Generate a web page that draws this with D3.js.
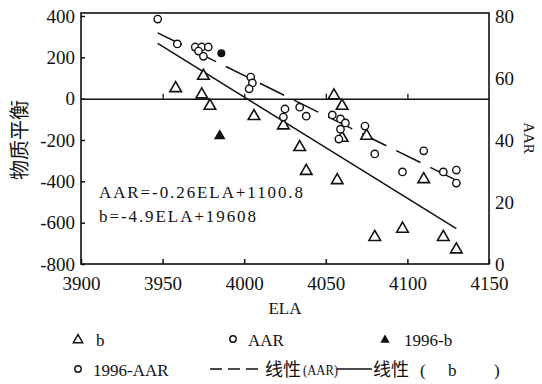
<!DOCTYPE html>
<html>
<head>
<meta charset="utf-8">
<script src="https://cdn.jsdelivr.net/npm/d3@7"></script>
<style>
  body { margin: 0; background: #fff; }
</style>
</head>
<body>
<div id="chart"></div>
<script>
// b (mass balance) points, open triangles
const bELA = [3958, 3975, 3974, 3979, 4006, 4024, 4034, 4038, 4057, 4055, 4060, 4060, 4075, 4080, 4097, 4110, 4122, 4130];
const bVal = [50, 110, 20, -35, -85, -130, -235, -350, -395, 15, -35, -190, -180, -670, -630, -390, -670, -730];

// AAR points, open circles
const aarELA = [3947, 3959, 3970, 3974, 3978, 3972, 3975, 4004, 4005, 4003, 4025, 4024, 4034, 4038, 4054, 4059, 4062, 4059, 4058, 4074, 4080, 4110, 4097, 4122, 4130, 4130];
const aarVal = [79, 71, 70, 70, 70, 68.7, 67, 60.3, 58.4, 56.5, 50, 47.4, 50.6, 47.7, 48.1, 46.8, 45.5, 43.5, 40.3, 44.5, 35.5, 36.5, 29.7, 29.7, 30.3, 26.1];

// 1996 points
const b96ELA = [3985], b96Val = [-180];
const aar96ELA = [3986], aar96Val = [68];

// linear fits: value = slope * ELA + intercept
const aarFit = [-0.26, 1100.8];
const bFit = [-4.9, 19608];
const fitRange = [3947, 4130];

const xTicks = [3900, 3950, 4000, 4050, 4100, 4150];
const yLeftTicks = [-800, -600, -400, -200, 0, 200, 400];
const yRightTicks = [0, 20, 40, 60, 80];

const serif = "'Liberation Serif', 'Times New Roman', serif";
const cjk = "'Noto Sans CJK SC', sans-serif";

const width = 542, height = 384;
const svg = d3.select("#chart").append("svg")
    .attr("width", width)
    .attr("height", height)
    .style("font-family", serif);

const x = d3.scaleLinear().domain([3900, 4150]).range([81, 489]);
const yL = d3.scaleLinear().domain([-800, 400]).range([264, 16]);
const yR = d3.scaleLinear().domain([0, 80]).range([264, 16]);
const fmt = d => d < 0 ? "-" + Math.abs(d) : String(d);

// frame
svg.append("rect")
    .attr("x", x(3900)).attr("y", 13)
    .attr("width", x(4150) - x(3900)).attr("height", yL(-800) - 13)
    .attr("fill", "none").attr("stroke", "#111").attr("stroke-width", 1.6);

function styleAxis(g) {
    g.attr("font-family", serif).attr("font-size", 19);
    g.selectAll("text").attr("fill", "#111");
    g.selectAll("line").attr("stroke", "#111").attr("stroke-width", 1.5);
}

// left axis (ticks pointing inward)
const gL = svg.append("g")
    .attr("transform", `translate(${x(3900)},0)`)
    .call(d3.axisLeft(yL).tickValues(yLeftTicks).tickSize(-4).tickPadding(6).tickFormat(fmt));
gL.select(".domain").remove();
styleAxis(gL);

// right axis
const gR = svg.append("g")
    .attr("transform", `translate(${x(4150)},0)`)
    .call(d3.axisRight(yR).tickValues(yRightTicks).tickSize(0).tickPadding(6).tickFormat(fmt));
gR.select(".domain").remove();
styleAxis(gR);

// bottom axis
const gB = svg.append("g")
    .attr("transform", `translate(0,${yL(-800)})`)
    .call(d3.axisBottom(x).tickValues(xTicks).tickSize(-5).tickSizeOuter(0).tickPadding(13).tickFormat(fmt));
gB.select(".domain").remove();
styleAxis(gB);

// zero line with small upward ticks
const gZ = svg.append("g")
    .attr("transform", `translate(0,${yL(0)})`)
    .call(d3.axisBottom(x).tickValues(xTicks.slice(1, -1)).tickSize(-5).tickSizeOuter(0).tickFormat(""));
gZ.select(".domain").attr("stroke", "#111").attr("stroke-width", 1.5);
gZ.selectAll("line").attr("stroke", "#111").attr("stroke-width", 1.3);

// axis titles
svg.append("text")
    .attr("transform", `translate(27,${yL(-200)}) rotate(-90)`)
    .attr("text-anchor", "middle")
    .style("font-family", cjk)
    .style("font-size", "20px")
    .attr("fill", "#111")
    .text("物质平衡");

svg.append("text")
    .attr("transform", `translate(524,138) rotate(90)`)
    .attr("text-anchor", "middle")
    .style("font-size", "15px")
    .attr("fill", "#111")
    .text("AAR");

svg.append("text")
    .attr("x", (x(3900) + x(4150)) / 2)
    .attr("y", 314)
    .attr("text-anchor", "middle")
    .style("font-size", "17px")
    .attr("fill", "#111")
    .text("ELA");

// regression lines
const bLine = fitRange.map(e => [x(e), yL(bFit[0] * e + bFit[1])]);
const aarLine = fitRange.map(e => [x(e), yR(aarFit[0] * e + aarFit[1])]);

svg.append("path")
    .attr("d", d3.line()(bLine))
    .attr("fill", "none").attr("stroke", "#111").attr("stroke-width", 1.5);
svg.append("path")
    .attr("d", d3.line()(aarLine))
    .attr("fill", "none").attr("stroke", "#111").attr("stroke-width", 1.5)
    .attr("stroke-dasharray", "27,11");

// markers
const tri = d3.symbol(d3.symbolTriangle, 58);
svg.append("g").selectAll("path")
    .data(d3.zip(bELA, bVal))
    .join("path")
    .attr("d", tri)
    .attr("transform", d => `translate(${x(d[0])},${yL(d[1])})`)
    .attr("fill", "#fff").attr("stroke", "#111").attr("stroke-width", 1.6);

svg.append("g").selectAll("path")
    .data(d3.zip(b96ELA, b96Val))
    .join("path")
    .attr("d", tri)
    .attr("transform", d => `translate(${x(d[0])},${yL(d[1])})`)
    .attr("fill", "#111");

svg.append("g").selectAll("circle")
    .data(d3.zip(aarELA, aarVal))
    .join("circle")
    .attr("cx", d => x(d[0])).attr("cy", d => yR(d[1]))
    .attr("r", 3.7)
    .attr("fill", "#fff").attr("stroke", "#111").attr("stroke-width", 1.4);

svg.append("g").selectAll("circle")
    .data(d3.zip(aar96ELA, aar96Val))
    .join("circle")
    .attr("cx", d => x(d[0])).attr("cy", d => yR(d[1]))
    .attr("r", 4)
    .attr("fill", "#111");

// equations
svg.append("text")
    .attr("x", 99).attr("y", 198)
    .attr("textLength", 204).attr("lengthAdjust", "spacing")
    .style("font-size", "17px").attr("fill", "#111")
    .text("AAR=-0.26ELA+1100.8");
svg.append("text")
    .attr("x", 99).attr("y", 222)
    .attr("textLength", 157).attr("lengthAdjust", "spacing")
    .style("font-size", "17px").attr("fill", "#111")
    .text("b=-4.9ELA+19608");

// legend
const leg = svg.append("g").style("font-size", "17px").attr("fill", "#111");
const smallTri = d3.symbol(d3.symbolTriangle, 38);
leg.append("path").attr("d", smallTri).attr("transform", "translate(78,340)")
    .attr("fill", "#fff").attr("stroke", "#111").attr("stroke-width", 1.5);
leg.append("text").attr("x", 96).attr("y", 346).text("b");

leg.append("circle").attr("cx", 233).attr("cy", 339).attr("r", 3.2)
    .attr("fill", "#fff").attr("stroke", "#111").attr("stroke-width", 1.4);
leg.append("text").attr("x", 248).attr("y", 346).text("AAR");

leg.append("path").attr("d", smallTri).attr("transform", "translate(385,340)").attr("fill", "#111");
leg.append("text").attr("x", 404).attr("y", 346).text("1996-b");

leg.append("circle").attr("cx", 78).attr("cy", 369).attr("r", 3.2)
    .attr("fill", "#fff").attr("stroke", "#111").attr("stroke-width", 1.4);
leg.append("text").attr("x", 93).attr("y", 376).text("1996-AAR");

leg.append("line").attr("x1", 210).attr("x2", 264).attr("y1", 369).attr("y2", 369)
    .attr("stroke", "#111").attr("stroke-width", 1.5).attr("stroke-dasharray", "12,6");
leg.append("text").attr("x", 265).attr("y", 376)
    .style("font-family", cjk).style("font-size", "18px").text("线性");
leg.append("text").attr("x", 303).attr("y", 375)
    .attr("textLength", 35).attr("lengthAdjust", "spacingAndGlyphs")
    .style("font-size", "15px").text("(AAR)");

leg.append("line").attr("x1", 337).attr("x2", 372).attr("y1", 369).attr("y2", 369)
    .attr("stroke", "#111").attr("stroke-width", 1.5);
const t2 = leg.append("text").attr("y", 376);
t2.append("tspan").attr("x", 373).style("font-family", cjk).style("font-size", "18px").text("线性");
t2.append("tspan").attr("x", 420).text("(");
t2.append("tspan").attr("x", 448).text("b");
t2.append("tspan").attr("x", 494).text(")");
</script>
</body>
</html>
